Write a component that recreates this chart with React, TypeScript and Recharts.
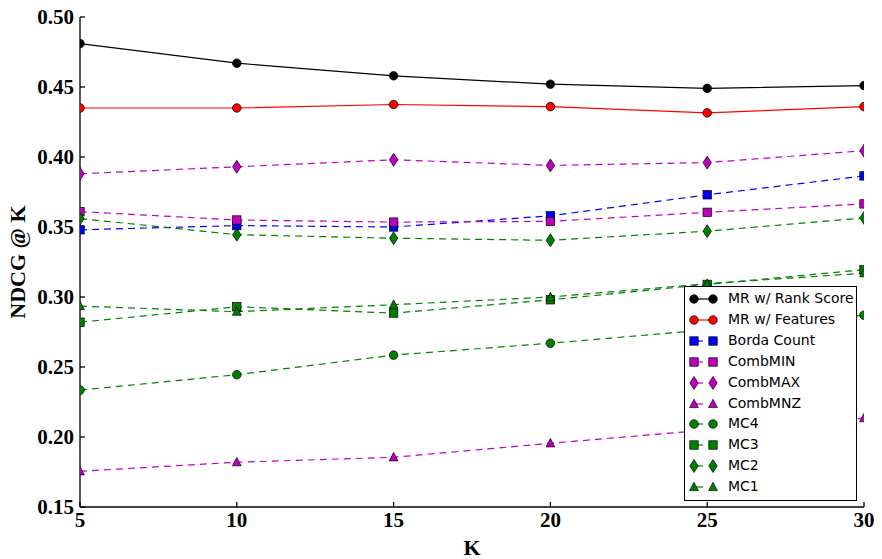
import React from "react";
import { Legend, Line, LineChart, XAxis, YAxis } from "recharts";

// values
const kValues = [5, 10, 15, 20, 25, 30];
const yTicks = [0.15, 0.2, 0.25, 0.3, 0.35, 0.4, 0.45, 0.5];

const rankScore = [0.481, 0.467, 0.458, 0.452, 0.449, 0.451];
const features = [0.435, 0.435, 0.4375, 0.436, 0.4315, 0.436];
const borda = [0.348, 0.351, 0.35, 0.358, 0.373, 0.3865];
const combMIN = [0.361, 0.355, 0.3535, 0.354, 0.3605, 0.3665];
const combMAX = [0.388, 0.393, 0.398, 0.394, 0.396, 0.4045];
const combMNZ = [0.1755, 0.182, 0.1855, 0.1955, 0.205, 0.2135];
const mc4 = [0.2335, 0.2445, 0.2585, 0.267, 0.2765, 0.287];
const mc3 = [0.282, 0.293, 0.2885, 0.298, 0.309, 0.3195];
const mc2 = [0.356, 0.3445, 0.342, 0.3405, 0.347, 0.3565];
const mc1 = [0.2935, 0.2895, 0.2945, 0.3, 0.3095, 0.317];

type Shape = "circle" | "square" | "diamond" | "triangle";

interface Series {
  key: string;
  name: string;
  values: number[];
  color: string;
  shape: Shape;
  dashed: boolean;
}

const MAGENTA = "#bf00bf";
const GREEN = "#008000";

const series: Series[] = [
  { key: "rank", name: "MR w/ Rank Score", values: rankScore, color: "#000000", shape: "circle", dashed: false },
  { key: "feat", name: "MR w/ Features", values: features, color: "#ff0000", shape: "circle", dashed: false },
  { key: "borda", name: "Borda Count", values: borda, color: "#0000ff", shape: "square", dashed: true },
  { key: "cmin", name: "CombMIN", values: combMIN, color: MAGENTA, shape: "square", dashed: true },
  { key: "cmax", name: "CombMAX", values: combMAX, color: MAGENTA, shape: "diamond", dashed: true },
  { key: "cmnz", name: "CombMNZ", values: combMNZ, color: MAGENTA, shape: "triangle", dashed: true },
  { key: "mc4", name: "MC4", values: mc4, color: GREEN, shape: "circle", dashed: true },
  { key: "mc3", name: "MC3", values: mc3, color: GREEN, shape: "square", dashed: true },
  { key: "mc2", name: "MC2", values: mc2, color: GREEN, shape: "diamond", dashed: true },
  { key: "mc1", name: "MC1", values: mc1, color: GREEN, shape: "triangle", dashed: true },
];

const data = kValues.map((k, i) => {
  const row: Record<string, number> = { k };
  series.forEach((s) => {
    row[s.key] = s.values[i];
  });
  return row;
});

const DASH = "7 5";
const serifTick = {
  fontFamily: "'Liberation Serif', 'DejaVu Serif', serif",
  fontWeight: 700,
  fontSize: 21,
  fill: "#000",
};

const Marker = ({ cx, cy, shape, fill }: { cx: number; cy: number; shape: Shape; fill: string }) => {
  const edge = { fill, stroke: "#000", strokeWidth: 0.7 };
  if (shape === "circle") return <circle cx={cx} cy={cy} r={4.3} {...edge} />;
  if (shape === "square") return <rect x={cx - 4.2} y={cy - 4.2} width={8.4} height={8.4} {...edge} />;
  if (shape === "diamond")
    return <polygon points={`${cx},${cy - 6.5} ${cx + 4.2},${cy} ${cx},${cy + 6.5} ${cx - 4.2},${cy}`} {...edge} />;
  return <polygon points={`${cx},${cy - 4.8} ${cx + 4.4},${cy + 3.6} ${cx - 4.4},${cy + 3.6}`} {...edge} />;
};

const LegendBox = () => (
  <div
    style={{
      position: "relative",
      width: 173,
      height: 215,
      boxSizing: "border-box",
      border: "1.3px solid #000",
      background: "#fff",
      fontFamily: "'DejaVu Sans', sans-serif",
      fontSize: 14,
      color: "#000",
    }}
  >
    {series.map((s, i) => (
      <div
        key={s.key}
        style={{ position: "absolute", left: 0, top: 2 + i * 20.9, height: 20, width: 171 }}
      >
        <svg width={40} height={20} style={{ position: "absolute", left: 0, top: 0 }}>
          <line
            x1={9}
            y1={10}
            x2={28}
            y2={10}
            stroke={s.color}
            strokeWidth={1.2}
            strokeDasharray={s.dashed ? "9 20" : undefined}
          />
          <Marker cx={9} cy={10} shape={s.shape} fill={s.color} />
          <Marker cx={28} cy={10} shape={s.shape} fill={s.color} />
        </svg>
        <span style={{ position: "absolute", left: 43, top: 1, lineHeight: "17px", whiteSpace: "nowrap" }}>
          {s.name}
        </span>
      </div>
    ))}
  </div>
);

const App = () => {
  return (
    <div style={{ position: "absolute", left: 0, top: 0, width: 882, height: 559, background: "#fff" }}>
      <LineChart width={882} height={559} data={data} margin={{ top: 17, right: 18, bottom: 0, left: 0 }}>
        <XAxis
          dataKey="k"
          type="number"
          domain={[5, 30]}
          ticks={kValues}
          allowDataOverflow
          height={52}
          tickSize={-5}
          tickMargin={10}
          tick={serifTick}
          stroke="#000"
          strokeWidth={1.3}
          label={{
            value: "K",
            position: "insideBottom",
            offset: 4,
            style: { ...serifTick, fontSize: 22 },
          }}
        />
        <XAxis
          xAxisId="top"
          orientation="top"
          type="number"
          domain={[5, 30]}
          ticks={kValues}
          allowDataOverflow
          height={0}
          tickSize={-5}
          tick={false}
          stroke="#000"
          strokeWidth={1.3}
        />
        <YAxis
          type="number"
          domain={[0.15, 0.5]}
          ticks={yTicks}
          allowDataOverflow
          width={80}
          tickSize={-5}
          tickMargin={11}
          tick={serifTick}
          tickFormatter={(v: number) => v.toFixed(2)}
          stroke="#000"
          strokeWidth={1.3}
          label={{
            value: "NDCG @ K",
            angle: -90,
            position: "insideLeft",
            offset: 17,
            style: { ...serifTick, fontSize: 22, textAnchor: "middle" },
          }}
        />
        <YAxis
          yAxisId="right"
          orientation="right"
          type="number"
          domain={[0.15, 0.5]}
          ticks={yTicks}
          allowDataOverflow
          width={0}
          tickSize={-5}
          tick={false}
          stroke="#000"
          strokeWidth={1.3}
        />
        {series.map((s) => (
          <Line
            key={s.key}
            dataKey={s.key}
            name={s.name}
            type="linear"
            stroke={s.color}
            strokeWidth={1.2}
            strokeDasharray={s.dashed ? DASH : undefined}
            dot={(p: any) => <Marker key={`${s.key}-${p.index}`} cx={p.cx} cy={p.cy} shape={s.shape} fill={s.color} />}
            activeDot={false}
            isAnimationActive={false}
          />
        ))}
        <Legend
          layout="vertical"
          align="center"
          verticalAlign="middle"
          content={() => <LegendBox />}
          wrapperStyle={{ left: 684, top: 286, width: 173, height: 215 }}
        />
      </LineChart>
    </div>
  );
};

export default App;
